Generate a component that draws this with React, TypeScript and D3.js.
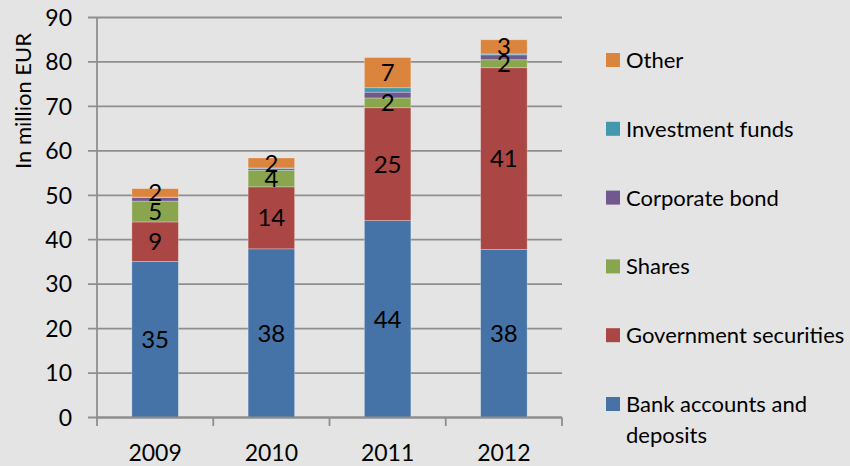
import React from "react";
import * as d3 from "d3";

const years = ["2009", "2010", "2011", "2012"];
const bankAccounts = [35.1, 37.95, 44.3, 37.8];
const governmentSecurities = [8.9, 13.95, 25.4, 40.9];
const shares = [4.7, 3.75, 2.2, 1.8];
const corporateBond = [0.8, 0.4, 1.3, 1.1];
const investmentFunds = [0.1, 0.1, 1.0, 0.2];
const other = [1.9, 2.25, 6.8, 3.2];
const yTicks = [0, 10, 20, 30, 40, 50, 60, 70, 80, 90];

const seriesNames = [
  "Bank accounts and deposits",
  "Government securities",
  "Shares",
  "Corporate bond",
  "Investment funds",
  "Other",
];
const seriesValues = [bankAccounts, governmentSecurities, shares, corporateBond, investmentFunds, other];
const seriesColors = ["#4572A7", "#AA4643", "#89A54E", "#71588F", "#4198AF", "#DB843D"];
const showLabel = [true, true, true, false, false, true];

const W = 850;
const H = 466;
const FONT = "Lato, 'Open Sans', sans-serif";

export default function App() {
  const x = d3.scaleBand().domain(years).range([97, 562]).padding(0);
  const y = d3.scaleLinear().domain([0, 90]).range([417.5, 17.5]);
  const barW = x.bandwidth() * 0.4;

  const rows = years.map((yr, i) => {
    const obj: Record<string, any> = { year: yr };
    seriesNames.forEach((n, s) => (obj[n] = seriesValues[s][i]));
    return obj;
  });
  const stack = d3.stack().keys(seriesNames)(rows as any);

  const legendOrder = [5, 4, 3, 2, 1, 0];
  const legendY0 = 60;
  const legendStep = 68.8;

  const tickXs = years.map((yr) => x(yr)!).concat([562]);

  return (
    <svg width={W} height={H} style={{ position: "absolute", left: 0, top: 0 }} fontFamily={FONT}>
      <rect x={0} y={0} width={W} height={H} fill="#e4e4e4" />
      {/* gridlines */}
      {yTicks.map((t) => (
        <line key={"g" + t} x1={88} x2={562} y1={y(t)} y2={y(t)} stroke="#8e8e8e" strokeWidth={1.8} />
      ))}
      {/* y axis */}
      <line x1={97} x2={97} y1={y(90)} y2={y(0)} stroke="#8e8e8e" strokeWidth={1.8} />
      {yTicks.map((t) => (
        <text key={"yt" + t} x={72} y={y(t)} dy="0.36em" textAnchor="end" fontSize={23} fill="#000">
          {t}
        </text>
      ))}
      <text
        transform={`translate(31,101) rotate(-90)`}
        textAnchor="middle"
        fontSize={22}
        fill="#000"
      >
        In million EUR
      </text>
      {/* x axis ticks */}
      {tickXs.map((tx, i) => (
        <line key={"xt" + i} x1={tx} x2={tx} y1={y(0)} y2={426} stroke="#8e8e8e" strokeWidth={1.8} />
      ))}
      {years.map((yr) => (
        <text key={"xl" + yr} x={x(yr)! + x.bandwidth() / 2} y={461} textAnchor="middle" fontSize={23} fill="#000">
          {yr}
        </text>
      ))}
      {/* bars */}
      {stack.map((layer, s) => (
        <g key={"s" + s}>
          {layer.map((d, i) => (
            <rect
              key={i}
              x={x(years[i])! + (x.bandwidth() - barW) / 2}
              y={y(d[1])}
              width={barW}
              height={y(d[0]) - y(d[1])}
              fill={seriesColors[s]}
              stroke="rgba(255,255,255,0.35)"
              strokeWidth={0.8}
            />
          ))}
        </g>
      ))}
      {/* value labels */}
      {stack.map((layer, s) =>
        showLabel[s]
          ? layer.map((d, i) => (
              <text
                key={"v" + s + "_" + i}
                x={x(years[i])! + x.bandwidth() / 2}
                y={(y(d[0]) + y(d[1])) / 2}
                dy="0.36em"
                textAnchor="middle"
                fontSize={24}
                fill="#000"
              >
                {Math.round(seriesValues[s][i])}
              </text>
            ))
          : null
      )}
      {/* x axis line */}
      <line x1={97} x2={562} y1={y(0)} y2={y(0)} stroke="#8e8e8e" strokeWidth={1.8} />
      {/* legend */}
      {legendOrder.map((s, k) => {
        const cy = legendY0 + k * legendStep;
        const name = seriesNames[s];
        const lines = name === "Bank accounts and deposits" ? ["Bank accounts and", "deposits"] : [name];
        return (
          <g key={"lg" + s}>
            <rect x={606} y={cy - 7} width={14} height={14} fill={seriesColors[s]} />
            {lines.map((ln, j) => (
              <text key={j} x={626} y={cy + j * 31} dy="0.36em" fontSize={22} fill="#000">
                {ln}
              </text>
            ))}
          </g>
        );
      })}
    </svg>
  );
}
